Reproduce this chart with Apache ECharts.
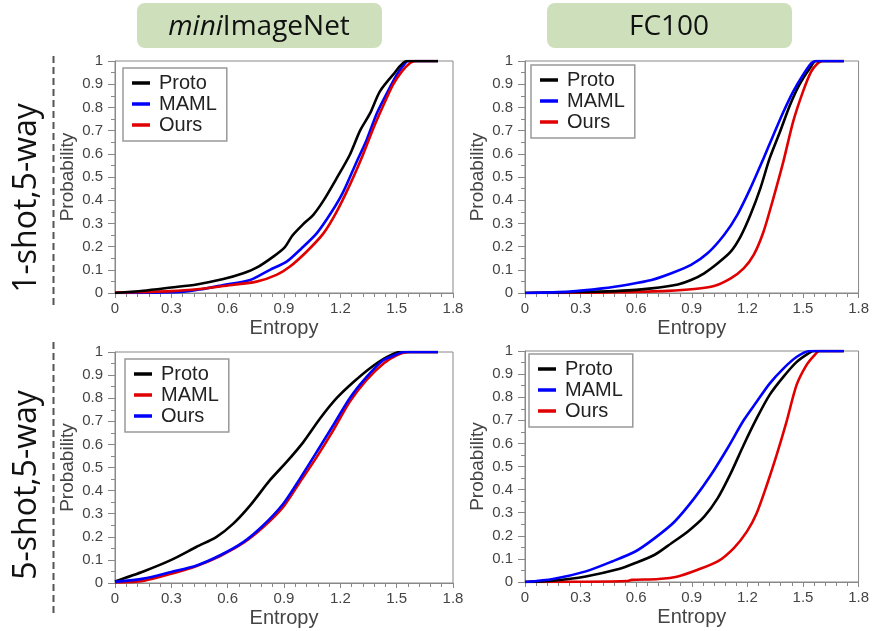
<!DOCTYPE html>
<html>
<head>
<meta charset="utf-8">
<script src="https://cdn.jsdelivr.net/npm/echarts@6/dist/echarts.min.js"></script>
<style>
  html, body { margin: 0; padding: 0; background: #fff; }
  #chart { width: 872px; height: 631px; }
</style>
</head>
<body>
<div id="chart"></div>
<script>
// ---- data: [entropy, cumulative probability] ----
var legendNames = ['Proto', 'MAML', 'Ours'];

// miniImageNet, 1-shot 5-way
var mini1Proto = [[0,0],[0.15,0.01],[0.3,0.024],[0.435,0.037],[0.577,0.06],[0.683,0.085],[0.754,0.109],[0.843,0.157],[0.905,0.198],[0.945,0.248],[1.0,0.295],[1.056,0.337],[1.11,0.398],[1.18,0.494],[1.25,0.595],[1.305,0.7],[1.358,0.774],[1.41,0.868],[1.48,0.94],[1.553,1],[1.72,1]];
var mini1Maml = [[0,0],[0.2,0.001],[0.346,0.004],[0.45,0.015],[0.577,0.034],[0.72,0.056],[0.825,0.1],[0.914,0.135],[0.994,0.193],[1.074,0.257],[1.154,0.35],[1.216,0.437],[1.287,0.566],[1.34,0.66],[1.394,0.774],[1.447,0.86],[1.5,0.94],[1.544,0.99],[1.56,1],[1.72,1]];
var mini1Ours = [[0,0.002],[0.3,0.008],[0.45,0.017],[0.577,0.03],[0.754,0.049],[0.86,0.078],[0.93,0.113],[1.02,0.178],[1.11,0.257],[1.18,0.35],[1.25,0.465],[1.32,0.595],[1.376,0.71],[1.43,0.81],[1.48,0.897],[1.527,0.954],[1.57,0.99],[1.6,1],[1.72,1]];

// FC100, 1-shot 5-way
var fc1Proto = [[0,0],[0.3,0.004],[0.506,0.009],[0.683,0.02],[0.825,0.037],[0.896,0.056],[0.967,0.085],[1.04,0.128],[1.11,0.178],[1.163,0.243],[1.216,0.336],[1.27,0.451],[1.32,0.58],[1.376,0.695],[1.43,0.81],[1.48,0.897],[1.536,0.968],[1.57,1],[1.72,1]];
var fc1Maml = [[0,0],[0.24,0.006],[0.417,0.02],[0.56,0.037],[0.683,0.056],[0.79,0.085],[0.896,0.121],[0.985,0.171],[1.074,0.25],[1.145,0.336],[1.216,0.451],[1.287,0.58],[1.34,0.68],[1.394,0.78],[1.447,0.868],[1.5,0.94],[1.544,0.99],[1.57,1],[1.72,1]];
var fc1Ours = [[0,0],[0.3,0.001],[0.506,0.003],[0.77,0.009],[0.914,0.017],[1.02,0.03],[1.11,0.063],[1.18,0.106],[1.234,0.164],[1.287,0.264],[1.34,0.408],[1.394,0.566],[1.447,0.739],[1.5,0.868],[1.544,0.954],[1.58,0.99],[1.607,1],[1.72,1]];

// miniImageNet, 5-shot 5-way
var mini5Proto = [[0,0.007],[0.151,0.05],[0.3,0.1],[0.435,0.157],[0.541,0.2],[0.63,0.257],[0.72,0.336],[0.825,0.445],[0.914,0.524],[1.003,0.61],[1.09,0.71],[1.18,0.8],[1.27,0.87],[1.358,0.93],[1.447,0.978],[1.518,1],[1.72,1]];
var mini5Maml = [[0,0.002],[0.151,0.009],[0.3,0.04],[0.435,0.074],[0.56,0.117],[0.683,0.173],[0.79,0.242],[0.896,0.329],[0.985,0.437],[1.074,0.545],[1.163,0.662],[1.25,0.784],[1.34,0.879],[1.43,0.95],[1.5,0.986],[1.57,1],[1.72,1]];
var mini5Ours = [[0,0.005],[0.151,0.019],[0.3,0.048],[0.435,0.076],[0.56,0.12],[0.683,0.177],[0.79,0.25],[0.896,0.343],[0.985,0.452],[1.074,0.567],[1.163,0.684],[1.25,0.8],[1.34,0.892],[1.43,0.965],[1.5,0.99],[1.536,1],[1.72,1]];

// FC100, 5-shot 5-way
var fc5Proto = [[0,0],[0.151,0.006],[0.328,0.024],[0.506,0.056],[0.595,0.082],[0.7,0.118],[0.79,0.168],[0.879,0.219],[0.967,0.283],[1.04,0.363],[1.11,0.47],[1.18,0.593],[1.25,0.708],[1.32,0.81],[1.394,0.888],[1.465,0.952],[1.536,0.993],[1.56,1],[1.72,1]];
var fc5Maml = [[0,0],[0.151,0.013],[0.328,0.046],[0.47,0.089],[0.595,0.132],[0.7,0.19],[0.808,0.262],[0.914,0.363],[1.003,0.463],[1.092,0.578],[1.18,0.7],[1.25,0.78],[1.32,0.859],[1.394,0.924],[1.465,0.974],[1.536,1],[1.72,1]];
var fc5Ours = [[0,0],[0.328,0.001],[0.55,0.004],[0.577,0.009],[0.72,0.013],[0.825,0.024],[0.932,0.053],[1.04,0.089],[1.127,0.147],[1.198,0.219],[1.25,0.298],[1.305,0.42],[1.358,0.55],[1.411,0.693],[1.465,0.852],[1.518,0.938],[1.56,0.98],[1.589,1],[1.72,1]];

var BLACK = '#000000', BLUE = '#0000ff', RED = '#e00000';

// panel layout
var panels = [
    {grid: {left: 115, top: 61, width: 338, height: 232}, legend: {left: 123, top: 68},
     lines: [[mini1Maml, BLUE, 1], [mini1Ours, RED, 2], [mini1Proto, BLACK, 0]]},
    {grid: {left: 525, top: 61, width: 338, height: 232}, legend: {left: 531, top: 65},
     lines: [[fc1Ours, RED, 2], [fc1Proto, BLACK, 0], [fc1Maml, BLUE, 1]]},
    {grid: {left: 115, top: 352, width: 338, height: 231}, legend: {left: 125, top: 359},
     lines: [[mini5Proto, BLACK, 0], [mini5Maml, RED, 1], [mini5Ours, BLUE, 2]]},
    {grid: {left: 525, top: 351, width: 338, height: 231}, legend: {left: 529, top: 354},
     lines: [[fc5Ours, RED, 2], [fc5Proto, BLACK, 0], [fc5Maml, BLUE, 1]]}
];

var AXIS_COLOR = '#888';
var LABEL_COLOR = '#444';
var FONT = 'Liberation Sans';

var option = {
    animation: false,
    backgroundColor: '#fff',
    grid: [], xAxis: [], yAxis: [], legend: [], series: [],
    graphic: []
};

panels.forEach(function (p, i) {
    option.grid.push(Object.assign({show: true, borderColor: AXIS_COLOR, borderWidth: 1}, p.grid));
    option.xAxis.push({
        type: 'value', gridIndex: i, min: 0, max: 1.8, interval: 0.3,
        name: 'Entropy', nameLocation: 'middle', nameGap: 25,
        nameTextStyle: {fontSize: 20, color: LABEL_COLOR, fontFamily: FONT},
        axisLine: {lineStyle: {color: AXIS_COLOR}},
        axisTick: {length: 5, lineStyle: {color: AXIS_COLOR}},
        minorTick: {show: true, splitNumber: 5, length: 4, lineStyle: {color: AXIS_COLOR}},
        axisLabel: {fontSize: 15, color: LABEL_COLOR, fontFamily: FONT, margin: 8},
        splitLine: {show: false}
    });
    option.yAxis.push({
        type: 'value', gridIndex: i, min: 0, max: 1, interval: 0.1,
        name: 'Probability', nameLocation: 'middle', nameGap: 38,
        nameTextStyle: {fontSize: 19, color: LABEL_COLOR, fontFamily: FONT},
        axisLine: {show: true, lineStyle: {color: AXIS_COLOR}},
        axisTick: {length: 7, lineStyle: {color: AXIS_COLOR}},
        minorTick: {show: true, splitNumber: 2, length: 4, lineStyle: {color: AXIS_COLOR}},
        axisLabel: {fontSize: 15, color: LABEL_COLOR, fontFamily: FONT, margin: 12},
        splitLine: {show: false}
    });
    var names = [];
    p.lines.forEach(function (l) {
        var nm = legendNames[l[2]] + '#' + i;
        names[l[2]] = nm;
        option.series.push({
            type: 'line', name: nm, xAxisIndex: i, yAxisIndex: i,
            data: l[0], showSymbol: false, symbol: 'none',
            smooth: 0.25,
            lineStyle: {color: l[1], width: 2.6},
            itemStyle: {color: l[1]}
        });
    });
    option.legend.push({
        orient: 'vertical', left: p.legend.left, top: p.legend.top,
        data: names, icon: 'rect', itemWidth: 18, itemHeight: 3.5, itemGap: 1,
        padding: [5, 10, 6, 9],
        borderColor: '#999', borderWidth: 1.5,
        selectedMode: false,
        formatter: function (n) { return n.split('#')[0]; },
        textStyle: {fontSize: 20, color: '#222', fontFamily: FONT, padding: [0, 0, 0, 4]}
    });
});

// title boxes, row labels and dashed separators
option.graphic = [
    {type: 'rect', shape: {x: 137, y: 3, width: 245, height: 45, r: 8}, style: {fill: '#cde0bb'}},
    {type: 'rect', shape: {x: 547, y: 3, width: 245, height: 45, r: 8}, style: {fill: '#cde0bb'}},
    {type: 'text', x: 259, y: 27, style: {
        text: '{i|mini}ImageNet', textAlign: 'center', textVerticalAlign: 'middle',
        font: '28px "Open Sans", sans-serif', fill: '#111',
        rich: {i: {fontStyle: 'italic', fontSize: 28, fontFamily: 'Open Sans', fill: '#111'}}
    }},
    {type: 'text', x: 669, y: 27, style: {
        text: 'FC100', textAlign: 'center', textVerticalAlign: 'middle',
        font: '28px "Open Sans", sans-serif', fill: '#111'
    }},
    {type: 'text', x: 27, y: 198, rotation: Math.PI / 2, style: {
        text: '1-shot,5-way', textAlign: 'center', textVerticalAlign: 'middle',
        font: '32px "Open Sans", sans-serif', fill: '#111'
    }},
    {type: 'text', x: 27, y: 485, rotation: Math.PI / 2, style: {
        text: '5-shot,5-way', textAlign: 'center', textVerticalAlign: 'middle',
        font: '32px "Open Sans", sans-serif', fill: '#111'
    }},
    {type: 'line', shape: {x1: 53.5, y1: 56, x2: 53.5, y2: 308},
     style: {stroke: '#555', lineWidth: 2, lineDash: [7, 4]}},
    {type: 'line', shape: {x1: 53.5, y1: 342, x2: 53.5, y2: 615},
     style: {stroke: '#555', lineWidth: 2, lineDash: [7, 4]}}
];

var chart = echarts.init(document.getElementById('chart'));
chart.setOption(option);
</script>
</body>
</html>
